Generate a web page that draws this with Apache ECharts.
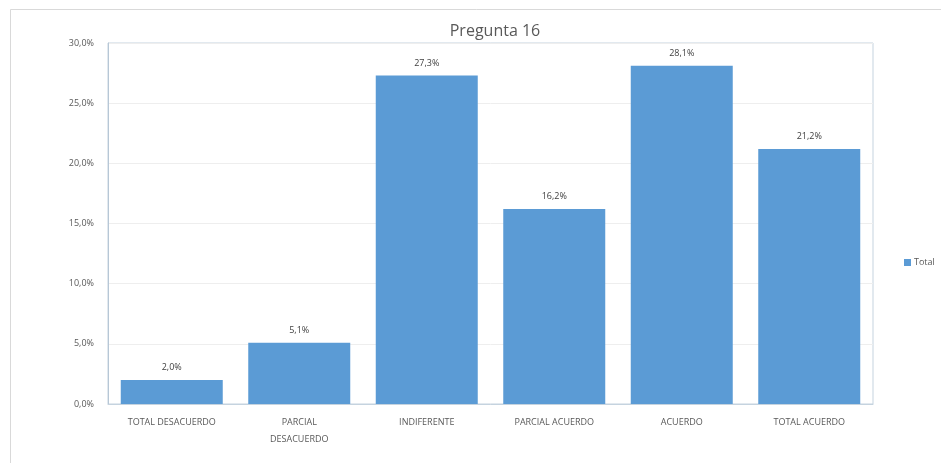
<!DOCTYPE html>
<html>
<head>
<meta charset="utf-8">
<script src="https://cdn.jsdelivr.net/npm/echarts@6/dist/echarts.min.js"></script>
<style>
  html, body { margin: 0; padding: 0; background: #fff; }
  #chart { width: 941px; height: 463px; }
</style>
</head>
<body>
<div id="chart"></div>
<script>
// Pregunta 16 – distribución de respuestas
const categories = ['TOTAL DESACUERDO', 'PARCIAL\nDESACUERDO', 'INDIFERENTE', 'PARCIAL ACUERDO', 'ACUERDO', 'TOTAL ACUERDO'];
const totals = [2.0, 5.1, 27.3, 16.2, 28.1, 21.2];
const yTicks = { min: 0, max: 30, interval: 5 };

const fmt = v => v.toFixed(1).replace('.', ',') + '%';

const chart = echarts.init(document.getElementById('chart'));
chart.setOption({
  animation: false,
  backgroundColor: '#fff',
  textStyle: { fontFamily: 'Open Sans, Liberation Sans, sans-serif' },
  title: {
    text: 'Pregunta 16',
    left: 490, top: 18, textAlign: 'center',
    textStyle: { fontSize: 16, fontWeight: 'normal', color: '#595959' }
  },
  graphic: [{
    type: 'rect',
    shape: { x: 10.5, y: 9.5, width: 940, height: 460 },
    style: { fill: 'none', stroke: '#d9d9d9', lineWidth: 1 },
    silent: true
  }],
  legend: {
    orient: 'vertical',
    left: 899, top: 253,
    itemWidth: 7, itemHeight: 7, itemGap: 4,
    icon: 'rect',
    textStyle: { fontSize: 9, color: '#595959', padding: [0, 0, 0, -2] },
    data: ['Total']
  },
  grid: {
    left: 108, right: 68, top: 43, bottom: 59,
    show: true, borderColor: '#c5d3df', borderWidth: 1
  },
  xAxis: {
    type: 'category',
    data: categories,
    axisLine: { show: true, lineStyle: { color: '#c5d3df' } },
    axisTick: { show: false },
    axisLabel: { fontSize: 9, color: '#595959', lineHeight: 17, margin: 10, interval: 0 }
  },
  yAxis: {
    type: 'value',
    min: yTicks.min, max: yTicks.max, interval: yTicks.interval,
    axisLine: { show: true, lineStyle: { color: '#b7c7d6' } },
    axisTick: { show: false },
    splitLine: { lineStyle: { color: '#eeeeee' } },
    axisLabel: { fontSize: 9, color: '#595959', margin: 14, formatter: v => fmt(v) }
  },
  series: [{
    name: 'Total',
    type: 'bar',
    data: totals,
    barCategoryGap: '20%',
    itemStyle: { color: '#5b9bd5' },
    label: {
      show: true, position: 'top', distance: 8,
      fontSize: 9, color: '#404040',
      formatter: p => fmt(p.value)
    }
  }]
});
</script>
</body>
</html>
